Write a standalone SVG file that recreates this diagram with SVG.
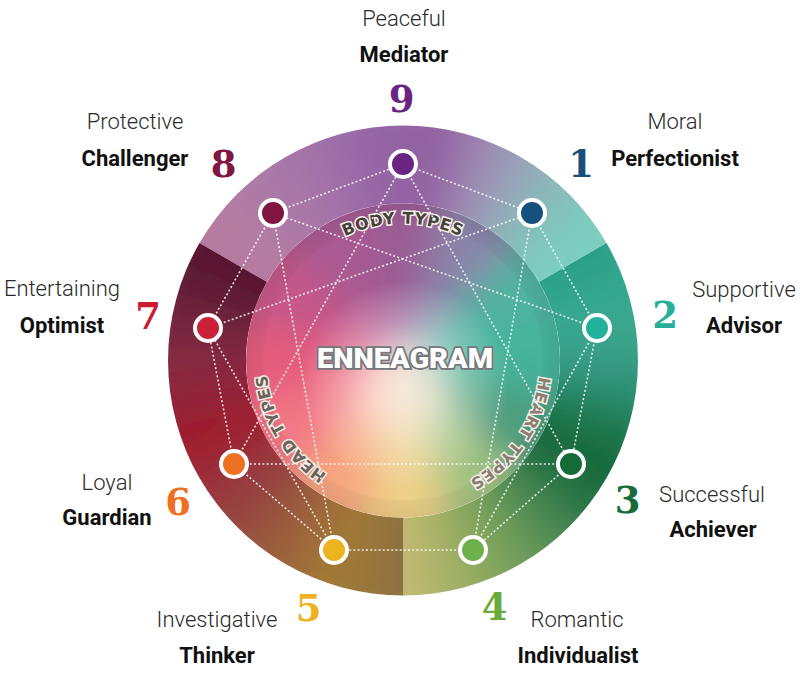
<svg xmlns="http://www.w3.org/2000/svg" xmlns:xlink="http://www.w3.org/1999/xlink" width="800" height="676" viewBox="0 0 800 676">
<defs>
<style>
.conn{stroke:#fff;stroke-width:1.6;stroke-dasharray:2 2.2;opacity:.85;fill:none}
.dot{stroke:#fff;stroke-width:4}
.desc{font-family:Roboto,"Liberation Sans",sans-serif;font-weight:300;font-size:22px;fill:#2a2a2a;text-anchor:middle}
.name{font-family:Roboto,"Liberation Sans",sans-serif;font-weight:700;font-size:22px;fill:#111;text-anchor:middle}
.num{font-family:"DejaVu Serif","Liberation Serif",serif;font-weight:700;font-size:37px;text-anchor:middle}
.arc{font-family:"DejaVu Sans","Liberation Sans",sans-serif;font-weight:700;font-size:16px;letter-spacing:0.8px;stroke:#f4efe6;stroke-width:3;paint-order:stroke;text-anchor:middle}
.title{font-family:Roboto,"DejaVu Sans",sans-serif;font-weight:900;font-size:28px;fill:#fff;stroke:#74787a;stroke-width:3.5;paint-order:stroke;text-anchor:middle}
</style>
<polygon id="w" points="0,0 -28.4,-270 28.4,-270"/>
<polygon id="wd" points="0,0 -63.1,-220 63.1,-220"/>
<filter id="blurR" x="-20%" y="-20%" width="140%" height="140%"><feGaussianBlur stdDeviation="17"/></filter>
<filter id="blurD" x="-30%" y="-30%" width="160%" height="160%"><feGaussianBlur stdDeviation="18"/></filter>
<clipPath id="cBody"><path d="M199.5,243 A235,235 0 0 1 606.5,243 L539,282 A157,157 0 0 0 267,282 Z"/></clipPath>
<clipPath id="cHeart"><path d="M606.5,243 A235,235 0 0 1 403,595.5 L403,517.5 A157,157 0 0 0 539,282 Z"/></clipPath>
<clipPath id="cHead"><path d="M403,595.5 A235,235 0 0 1 199.5,243 L267,282 A157,157 0 0 0 403,517.5 Z"/></clipPath>
<clipPath id="cDisc"><circle cx="403" cy="360.5" r="157"/></clipPath>
<radialGradient id="glow" gradientUnits="userSpaceOnUse" cx="405" cy="385" r="140">
<stop offset="0" stop-color="#fff6f4" stop-opacity=".8"/>
<stop offset=".2" stop-color="#fff6f4" stop-opacity=".65"/>
<stop offset=".45" stop-color="#fff" stop-opacity=".3"/>
<stop offset=".75" stop-color="#fff" stop-opacity="0"/>
</radialGradient>
<radialGradient id="rim" gradientUnits="userSpaceOnUse" cx="403" cy="360.5" r="157">
<stop offset=".88" stop-color="#000" stop-opacity="0"/>
<stop offset=".9" stop-color="#000" stop-opacity=".04"/>
<stop offset="1" stop-color="#000" stop-opacity=".07"/>
</radialGradient>
<path id="pBody" d="M284.4,292 A137,137 0 0 1 521.6,292"/>
<path id="pHeart" d="M526.1,300.4 A137,137 0 0 1 393.4,497.2"/>
<path id="pHead" d="M405.4,497.5 A137,137 0 0 1 283.2,294.1"/>
</defs>

<g id="wheel">
<g id="ring-body" clip-path="url(#cBody)">
<g filter="url(#blurR)" transform="translate(403 360.5)">
<use xlink:href="#w" transform="rotate(260)" fill="#b27a9c"/>
<use xlink:href="#w" transform="rotate(270)" fill="#b27a9c"/>
<use xlink:href="#w" transform="rotate(280)" fill="#b27a9c"/>
<use xlink:href="#w" transform="rotate(290)" fill="#b27a9c"/>
<use xlink:href="#w" transform="rotate(300)" fill="#b67a9e"/>
<use xlink:href="#w" transform="rotate(310)" fill="#b47ca2"/>
<use xlink:href="#w" transform="rotate(320)" fill="#ad7aa5"/>
<use xlink:href="#w" transform="rotate(330)" fill="#a777a8"/>
<use xlink:href="#w" transform="rotate(340)" fill="#a070a8"/>
<use xlink:href="#w" transform="rotate(350)" fill="#9868a6"/>
<use xlink:href="#w" transform="rotate(0)" fill="#9363a3"/>
<use xlink:href="#w" transform="rotate(10)" fill="#9360a0"/>
<use xlink:href="#w" transform="rotate(20)" fill="#9c82b0"/>
<use xlink:href="#w" transform="rotate(30)" fill="#9a9eb8"/>
<use xlink:href="#w" transform="rotate(40)" fill="#8cb6b8"/>
<use xlink:href="#w" transform="rotate(50)" fill="#7fc6bd"/>
<use xlink:href="#w" transform="rotate(60)" fill="#7ccfc0"/>
<use xlink:href="#w" transform="rotate(70)" fill="#7ccfc0"/>
<use xlink:href="#w" transform="rotate(80)" fill="#7ccfc0"/>
<use xlink:href="#w" transform="rotate(90)" fill="#7ccfc0"/>
<use xlink:href="#w" transform="rotate(100)" fill="#7ccfc0"/>
</g>
</g>
<g id="ring-heart" clip-path="url(#cHeart)">
<g filter="url(#blurR)" transform="translate(403 360.5)">
<use xlink:href="#w" transform="rotate(20)" fill="#2b9f89"/>
<use xlink:href="#w" transform="rotate(30)" fill="#2b9f89"/>
<use xlink:href="#w" transform="rotate(40)" fill="#2b9f89"/>
<use xlink:href="#w" transform="rotate(50)" fill="#2b9f89"/>
<use xlink:href="#w" transform="rotate(60)" fill="#2b9f89"/>
<use xlink:href="#w" transform="rotate(70)" fill="#33a68e"/>
<use xlink:href="#w" transform="rotate(80)" fill="#3aa891"/>
<use xlink:href="#w" transform="rotate(90)" fill="#379e86"/>
<use xlink:href="#w" transform="rotate(100)" fill="#2c8c6e"/>
<use xlink:href="#w" transform="rotate(110)" fill="#1b7449"/>
<use xlink:href="#w" transform="rotate(120)" fill="#12683a"/>
<use xlink:href="#w" transform="rotate(130)" fill="#2a7646"/>
<use xlink:href="#w" transform="rotate(140)" fill="#4e8a52"/>
<use xlink:href="#w" transform="rotate(150)" fill="#6e9c5a"/>
<use xlink:href="#w" transform="rotate(160)" fill="#8aa85e"/>
<use xlink:href="#w" transform="rotate(170)" fill="#a8b268"/>
<use xlink:href="#w" transform="rotate(180)" fill="#c2b972"/>
<use xlink:href="#w" transform="rotate(190)" fill="#c2b972"/>
<use xlink:href="#w" transform="rotate(200)" fill="#c2b972"/>
<use xlink:href="#w" transform="rotate(210)" fill="#c2b972"/>
<use xlink:href="#w" transform="rotate(220)" fill="#c2b972"/>
</g>
</g>
<g id="ring-head" clip-path="url(#cHead)">
<g filter="url(#blurR)" transform="translate(403 360.5)">
<use xlink:href="#w" transform="rotate(140)" fill="#8a7042"/>
<use xlink:href="#w" transform="rotate(150)" fill="#8a7042"/>
<use xlink:href="#w" transform="rotate(160)" fill="#8a7042"/>
<use xlink:href="#w" transform="rotate(170)" fill="#8a7042"/>
<use xlink:href="#w" transform="rotate(180)" fill="#8a7042"/>
<use xlink:href="#w" transform="rotate(190)" fill="#99763a"/>
<use xlink:href="#w" transform="rotate(200)" fill="#a27a36"/>
<use xlink:href="#w" transform="rotate(210)" fill="#9e663a"/>
<use xlink:href="#w" transform="rotate(220)" fill="#98543e"/>
<use xlink:href="#w" transform="rotate(230)" fill="#973f42"/>
<use xlink:href="#w" transform="rotate(240)" fill="#9a2e3a"/>
<use xlink:href="#w" transform="rotate(250)" fill="#a01a2c"/>
<use xlink:href="#w" transform="rotate(260)" fill="#922238"/>
<use xlink:href="#w" transform="rotate(270)" fill="#862a40"/>
<use xlink:href="#w" transform="rotate(280)" fill="#762640"/>
<use xlink:href="#w" transform="rotate(290)" fill="#621c36"/>
<use xlink:href="#w" transform="rotate(300)" fill="#561630"/>
<use xlink:href="#w" transform="rotate(310)" fill="#561630"/>
<use xlink:href="#w" transform="rotate(320)" fill="#561630"/>
<use xlink:href="#w" transform="rotate(330)" fill="#561630"/>
<use xlink:href="#w" transform="rotate(340)" fill="#561630"/>
</g>
</g>
<g id="disc" clip-path="url(#cDisc)">
<g filter="url(#blurD)" transform="translate(403 360.5)">
<use xlink:href="#wd" transform="rotate(0)" fill="#9a5c94"/>
<use xlink:href="#wd" transform="rotate(30)" fill="#8a84aa"/>
<use xlink:href="#wd" transform="rotate(60)" fill="#4fb3a0"/>
<use xlink:href="#wd" transform="rotate(90)" fill="#45b49a"/>
<use xlink:href="#wd" transform="rotate(120)" fill="#4e9c7e"/>
<use xlink:href="#wd" transform="rotate(150)" fill="#a2c282"/>
<use xlink:href="#wd" transform="rotate(180)" fill="#eed088"/>
<use xlink:href="#wd" transform="rotate(210)" fill="#f6a680"/>
<use xlink:href="#wd" transform="rotate(240)" fill="#f27886"/>
<use xlink:href="#wd" transform="rotate(270)" fill="#e55c7c"/>
<use xlink:href="#wd" transform="rotate(300)" fill="#c55888"/>
<use xlink:href="#wd" transform="rotate(330)" fill="#a85a92"/>
</g>
<circle cx="403" cy="360.5" r="157" fill="url(#glow)"/>
<circle cx="403" cy="360.5" r="157" fill="url(#rim)"/>
</g>
<text class="arc" fill="#45413a"><textPath xlink:href="#pBody" startOffset="50%">BODY TYPES</textPath></text>
<text class="arc" fill="#8a7c72"><textPath xlink:href="#pHeart" startOffset="50%">HEART TYPES</textPath></text>
<text class="arc" fill="#6a635a"><textPath xlink:href="#pHead" startOffset="50%">HEAD TYPES</textPath></text>
<text class="title" x="405" y="368" textLength="176" lengthAdjust="spacingAndGlyphs">ENNEAGRAM</text>
</g>

<g id="connectors">
<line class="conn" x1="403" y1="164" x2="532" y2="213"/>
<line class="conn" x1="532" y1="213" x2="597" y2="328"/>
<line class="conn" x1="597" y1="328" x2="571" y2="464"/>
<line class="conn" x1="571" y1="464" x2="473" y2="550"/>
<line class="conn" x1="473" y1="550" x2="334" y2="550"/>
<line class="conn" x1="334" y1="550" x2="234" y2="464"/>
<line class="conn" x1="234" y1="464" x2="208" y2="328"/>
<line class="conn" x1="208" y1="328" x2="273" y2="213"/>
<line class="conn" x1="273" y1="213" x2="403" y2="164"/>
<line class="conn" x1="403" y1="164" x2="571" y2="464"/>
<line class="conn" x1="571" y1="464" x2="234" y2="464"/>
<line class="conn" x1="234" y1="464" x2="403" y2="164"/>
<line class="conn" x1="532" y1="213" x2="473" y2="550"/>
<line class="conn" x1="473" y1="550" x2="597" y2="328"/>
<line class="conn" x1="597" y1="328" x2="273" y2="213"/>
<line class="conn" x1="273" y1="213" x2="334" y2="550"/>
<line class="conn" x1="334" y1="550" x2="208" y2="328"/>
<line class="conn" x1="208" y1="328" x2="532" y2="213"/>
</g>

<g id="node-9">
<circle class="dot" cx="403" cy="164" r="13" fill="#6a2483"/>
<text class="num" x="401.5" y="112" fill="#6a2483">9</text>
<text class="desc" x="404" y="26">Peaceful</text>
<text class="name" x="404" y="62">Mediator</text>
</g>
<g id="node-1">
<circle class="dot" cx="532" cy="213" r="13" fill="#15507f"/>
<text class="num" x="581" y="177" fill="#1a4f7c">1</text>
<text class="desc" x="675" y="129">Moral</text>
<text class="name" x="675" y="166">Perfectionist</text>
</g>
<g id="node-2">
<circle class="dot" cx="597" cy="328" r="13" fill="#22b19a"/>
<text class="num" x="665" y="328" fill="#26b09a">2</text>
<text class="desc" x="744" y="297">Supportive</text>
<text class="name" x="744" y="333">Advisor</text>
</g>
<g id="node-3">
<circle class="dot" cx="571" cy="464" r="13" fill="#146b38"/>
<text class="num" x="627.5" y="513" fill="#1a6b3a">3</text>
<text class="desc" x="712" y="502">Successful</text>
<text class="name" x="713" y="537">Achiever</text>
</g>
<g id="node-4">
<circle class="dot" cx="473" cy="550" r="13" fill="#6eb04a"/>
<text class="num" x="494.5" y="620" fill="#6aaa3a">4</text>
<text class="desc" x="577" y="627">Romantic</text>
<text class="name" x="578" y="663">Individualist</text>
</g>
<g id="node-5">
<circle class="dot" cx="334" cy="550" r="13" fill="#ecb421"/>
<text class="num" x="308.5" y="621" fill="#eeb21e">5</text>
<text class="desc" x="217" y="627">Investigative</text>
<text class="name" x="217" y="663">Thinker</text>
</g>
<g id="node-6">
<circle class="dot" cx="234" cy="464" r="13" fill="#ee7121"/>
<text class="num" x="178" y="515" fill="#ee7020">6</text>
<text class="desc" x="107" y="490">Loyal</text>
<text class="name" x="107" y="525">Guardian</text>
</g>
<g id="node-7">
<circle class="dot" cx="208" cy="328" r="13" fill="#cc1f3a"/>
<text class="num" x="148" y="329" fill="#cc1a30">7</text>
<text class="desc" x="62" y="296">Entertaining</text>
<text class="name" x="62" y="333">Optimist</text>
</g>
<g id="node-8">
<circle class="dot" cx="273" cy="213" r="13" fill="#7f1540"/>
<text class="num" x="223.5" y="177" fill="#7f1540">8</text>
<text class="desc" x="135" y="129">Protective</text>
<text class="name" x="135" y="166">Challenger</text>
</g>
</svg>
